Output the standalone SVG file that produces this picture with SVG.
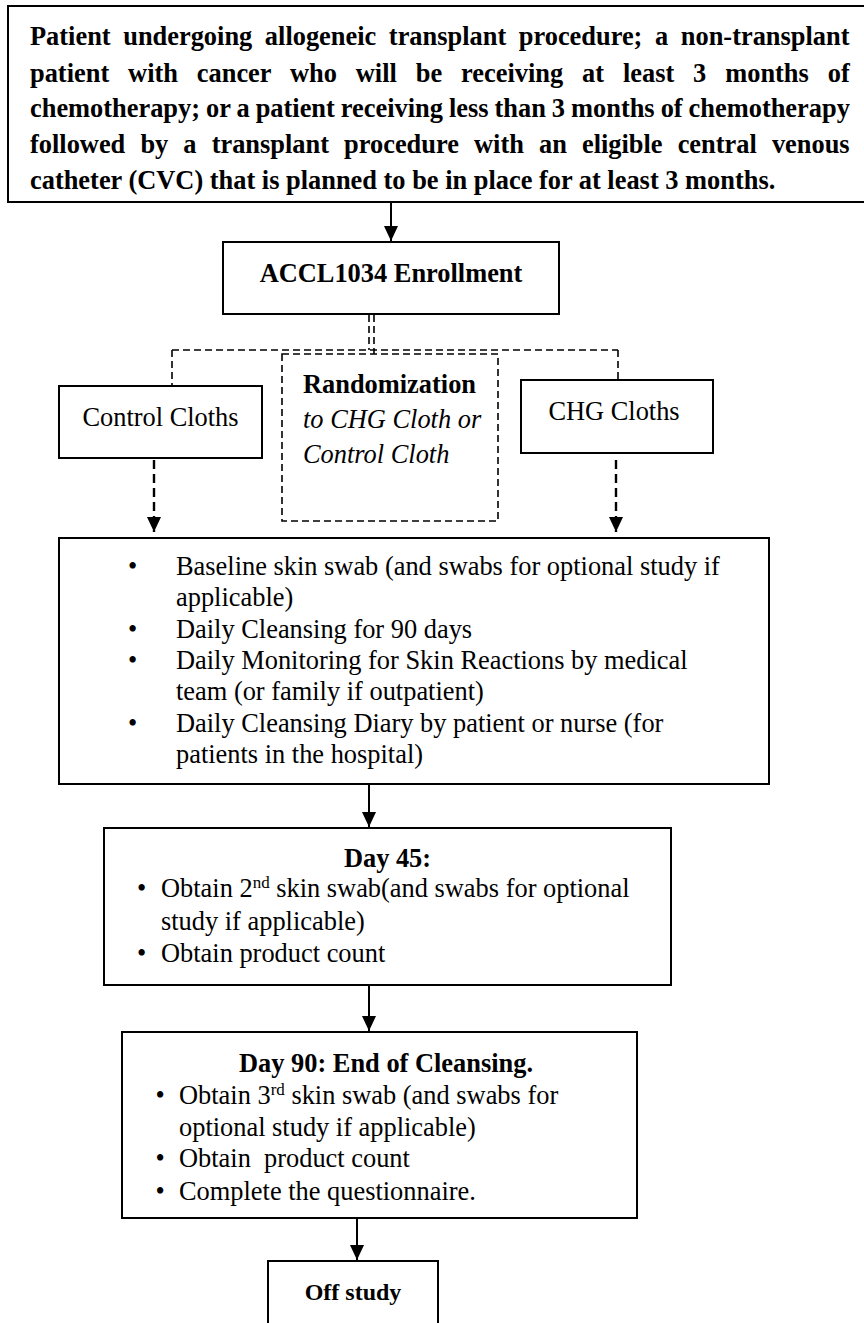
<svg xmlns="http://www.w3.org/2000/svg" width="864" height="1323" viewBox="0 0 864 1323">
<style>
text{font-family:"Liberation Serif","Times New Roman",serif;font-size:26.4px;fill:#000}
.b{font-weight:bold}
.i{font-style:italic}
.box{fill:#fff;stroke:#000;stroke-width:2}
.dbox{fill:none;stroke:#000;stroke-width:1.6;stroke-dasharray:7 4}
.ln{stroke:#000;stroke-width:2;fill:none}
.dl{stroke:#000;stroke-width:1.6;fill:none;stroke-dasharray:7 4}
.da{stroke:#000;stroke-width:2.4;fill:none;stroke-dasharray:9 5}
.sup{font-size:17px}
</style>
<defs>
<marker id="ah" viewBox="0 0 15 14" refX="15" refY="7" markerWidth="15" markerHeight="14" markerUnits="userSpaceOnUse" orient="auto">
<path d="M0,0 L15,7 L0,14 Z" fill="#000"/>
</marker>
</defs>
<rect width="864" height="1323" fill="#fff"/>

<g id="connectors">
<line class="ln" x1="391" y1="203" x2="391" y2="241" marker-end="url(#ah)"/>
<line class="dl" x1="369" y1="315" x2="369" y2="350"/>
<line class="dl" x1="374" y1="315" x2="374" y2="354"/>
<line class="dl" x1="172" y1="350" x2="618" y2="350"/>
<line class="dl" x1="172" y1="350" x2="172" y2="386"/>
<line class="dl" x1="618" y1="350" x2="618" y2="380"/>
<line class="da" x1="154" y1="460" x2="154" y2="532" marker-end="url(#ah)"/>
<line class="da" x1="616" y1="460" x2="616" y2="532" marker-end="url(#ah)"/>
<line class="ln" x1="369" y1="785" x2="369" y2="827" marker-end="url(#ah)"/>
<line class="ln" x1="369" y1="986" x2="369" y2="1031" marker-end="url(#ah)"/>
<line class="ln" x1="357" y1="1219" x2="357" y2="1260" marker-end="url(#ah)"/>
</g>

<g id="eligibility">
<rect class="box" x="8" y="6" width="870" height="196"/>
<text class="b" x="30" y="45" word-spacing="6">Patient undergoing allogeneic transplant procedure; a non-transplant</text>
<text class="b" x="30" y="81.5" word-spacing="12.3">patient with cancer who will be receiving at least 3 months of</text>
<text class="b" x="30" y="117" word-spacing="-0.6">chemotherapy; or a patient receiving less than 3 months of chemotherapy</text>
<text class="b" x="30" y="153" word-spacing="8.5">followed by a transplant procedure with an eligible central venous</text>
<text class="b" x="30" y="189">catheter (CVC) that is planned to be in place for at least 3 months.</text>
</g>

<g id="enrollment">
<rect class="box" x="223" y="242" width="336" height="72"/>
<text class="b" x="391" y="282" text-anchor="middle">ACCL1034 Enrollment</text>
</g>

<g id="randomization">
<rect class="dbox" x="282" y="354" width="216" height="167"/>
<text class="b" x="303" y="393">Randomization</text>
<text class="i" x="303" y="428">to CHG Cloth or</text>
<text class="i" x="303" y="463">Control Cloth</text>
</g>

<g id="control-cloths">
<rect class="box" x="59" y="386" width="203" height="72"/>
<text x="160.5" y="426" text-anchor="middle">Control Cloths</text>
</g>

<g id="chg-cloths">
<rect class="box" x="521" y="380" width="192" height="73"/>
<text x="614" y="420" text-anchor="middle">CHG Cloths</text>
</g>

<g id="daily-procedures">
<rect class="box" x="59" y="538" width="710" height="246"/>
<text x="128" y="575">•</text>
<text x="176" y="575">Baseline skin swab (and swabs for optional study if</text>
<text x="176" y="606.3">applicable)</text>
<text x="128" y="637.7">•</text>
<text x="176" y="637.7">Daily Cleansing for 90 days</text>
<text x="128" y="669">•</text>
<text x="176" y="669">Daily Monitoring for Skin Reactions by medical</text>
<text x="176" y="700.3">team (or family if outpatient)</text>
<text x="128" y="731.7">•</text>
<text x="176" y="731.7">Daily Cleansing Diary by patient or nurse (for</text>
<text x="176" y="763">patients in the hospital)</text>
</g>

<g id="day45">
<rect class="box" x="104" y="828" width="567" height="157"/>
<text class="b" x="387.5" y="866.7" text-anchor="middle">Day 45:</text>
<text x="137" y="896.7">•</text>
<text x="161" y="896.7">Obtain 2<tspan class="sup" dy="-9">nd</tspan><tspan dy="9"> skin swab(and swabs for optional</tspan></text>
<text x="161" y="930">study if applicable)</text>
<text x="137" y="961.7">•</text>
<text x="161" y="961.7">Obtain product count</text>
</g>

<g id="day90">
<rect class="box" x="122" y="1032" width="515" height="186"/>
<text class="b" x="239" y="1071.5">Day 90: End of Cleansing.</text>
<text x="155.5" y="1104">•</text>
<text x="179" y="1104">Obtain 3<tspan class="sup" dy="-9">rd</tspan><tspan dy="9"> skin swab (and swabs for</tspan></text>
<text x="179" y="1135.5">optional study if applicable)</text>
<text x="155.5" y="1167">•</text>
<text x="179" y="1167" xml:space="preserve">Obtain  product count</text>
<text x="155.5" y="1199.5">•</text>
<text x="179" y="1199.5">Complete the questionnaire.</text>
</g>

<g id="off-study">
<rect class="box" x="268" y="1261" width="170" height="90"/>
<text class="b" x="353" y="1300" text-anchor="middle" style="font-size:24px">Off study</text>
</g>
</svg>
